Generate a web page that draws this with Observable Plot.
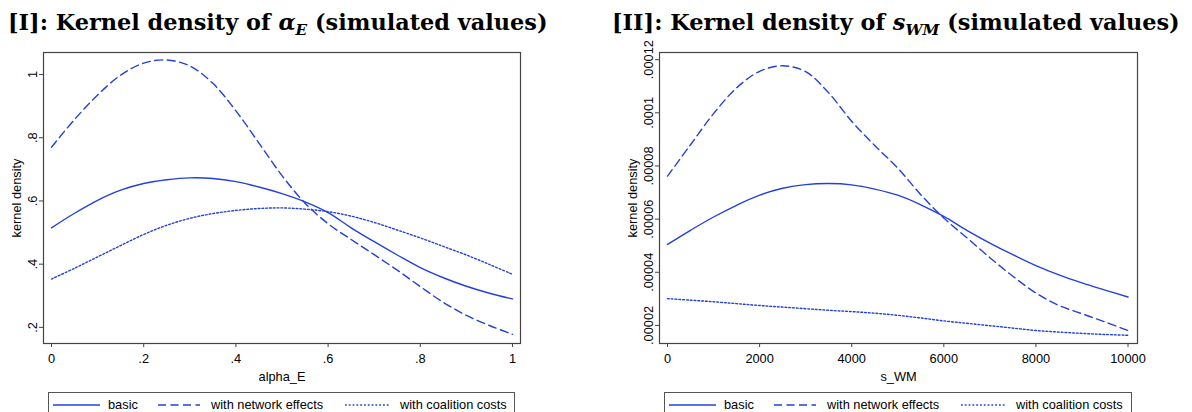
<!DOCTYPE html>
<html><head><meta charset="utf-8">
<script src="https://cdn.jsdelivr.net/npm/d3@7"></script>
<script src="https://cdn.jsdelivr.net/npm/@observablehq/plot@0.6"></script>
<style>
body{margin:0;background:#fff;}
#root{position:relative;width:1192px;height:412px;overflow:hidden;background:#fff;font-family:"Liberation Sans",Arial,sans-serif;}
.title{position:absolute;top:10px;line-height:24px;font-family:"DejaVu Serif","Liberation Serif",serif;font-weight:bold;font-size:22.4px;white-space:nowrap;color:#000;}
.title i{font-style:italic;}
.title sub{font-size:0.68em;vertical-align:-0.3em;line-height:0;}
.panel{position:absolute;top:0;}
.legend{position:absolute;top:392px;}
</style></head>
<body><div id="root"></div>
<script>
// ---------- data ----------
const seriesNames = ["basic", "with network effects", "with coalition costs"];

// Panel I: alpha_E
const alphaGrid = [0, 0.05, 0.1, 0.15, 0.2, 0.25, 0.3, 0.35, 0.4, 0.45, 0.5, 0.55, 0.6, 0.65, 0.7, 0.75, 0.8, 0.85, 0.9, 0.95, 1];
const alphaBasic = [0.515, 0.561, 0.602, 0.634, 0.655, 0.667, 0.673, 0.671, 0.661, 0.644, 0.623, 0.597, 0.563, 0.515, 0.471, 0.429, 0.389, 0.357, 0.330, 0.308, 0.290];
const alphaNetwork = [0.770, 0.858, 0.935, 0.998, 1.036, 1.046, 1.027, 0.972, 0.885, 0.783, 0.680, 0.593, 0.528, 0.478, 0.430, 0.381, 0.329, 0.279, 0.238, 0.206, 0.178];
const alphaCoalition = [0.353, 0.387, 0.423, 0.459, 0.494, 0.523, 0.545, 0.560, 0.570, 0.576, 0.578, 0.574, 0.566, 0.552, 0.532, 0.508, 0.483, 0.456, 0.429, 0.399, 0.368];
const alphaXTicks = [0, 0.2, 0.4, 0.6, 0.8, 1];
const alphaYTicks = [0.2, 0.4, 0.6, 0.8, 1];

// Panel II: s_WM
const swmGrid = [0, 500, 1000, 1500, 2000, 2500, 3000, 3500, 4000, 4500, 5000, 5500, 6000, 6500, 7000, 7500, 8000, 8500, 9000, 9500, 10000];
const swmBasic = [0.0000505, 0.0000558, 0.0000608, 0.0000652, 0.0000690, 0.0000716, 0.0000730, 0.0000734, 0.0000729, 0.0000713, 0.0000690, 0.0000654, 0.0000610, 0.0000558, 0.0000510, 0.0000466, 0.0000425, 0.0000390, 0.0000360, 0.0000333, 0.0000307];
const swmNetwork = [0.0000762, 0.0000880, 0.0000997, 0.0001094, 0.0001156, 0.0001177, 0.0001155, 0.0001075, 0.0000968, 0.0000877, 0.0000792, 0.0000692, 0.0000604, 0.0000530, 0.0000455, 0.0000385, 0.0000322, 0.0000275, 0.0000244, 0.0000213, 0.0000181];
const swmCoalition = [0.0000301, 0.0000295, 0.0000289, 0.0000282, 0.0000275, 0.0000269, 0.0000263, 0.0000257, 0.0000252, 0.0000246, 0.0000238, 0.0000228, 0.0000217, 0.0000208, 0.0000199, 0.0000190, 0.0000181, 0.0000175, 0.0000170, 0.0000166, 0.0000163];
const swmXTicks = [0, 2000, 4000, 6000, 8000, 10000];
const swmYTicks = [0.00002, 0.00004, 0.00006, 0.00008, 0.0001, 0.00012];

// ---------- styling ----------
const lineColor = "#2340dc";
const frameColor = "#444";
const dashes = ["none", "8,4.5", "1.8,2"];
const fmt = d => d === 0 ? "0" : String(d).replace(/^0\./, ".");
const root = document.getElementById("root");

function makePanel({grid, series, xDomain, yDomain, xTicks, yTicks, xLabel, marginLeft, marginRight, left}) {
  const rows = series.map((vals, i) => grid.map((x, j) => ({x, y: vals[j], s: seriesNames[i]})));
  const chart = Plot.plot({
    width: 596, height: 392,
    marginLeft, marginRight, marginTop: 52, marginBottom: 49,
    x: {domain: xDomain},
    y: {domain: yDomain},
    style: {fontFamily: '"Liberation Sans", Arial, sans-serif', fontSize: "12.5px", color: "#000", background: "transparent", overflow: "visible"},
    marks: [
      Plot.frame({stroke: frameColor, strokeWidth: 1.2}),
      Plot.axisX(xTicks, {tickSize: 4, tickPadding: 6, tickFormat: fmt, stroke: frameColor, label: xLabel, labelAnchor: "center", labelOffset: 37, labelArrow: false, fontSize: 12.8}),
      Plot.axisY(yTicks, {tickSize: 4, tickPadding: 3, tickRotate: -90, tickFormat: fmt, stroke: frameColor, label: "kernel density", labelAnchor: "center", labelOffset: 32, labelArrow: false, fontSize: 12.8}),
      ...rows.map((r, i) => Plot.line(r, {x: "x", y: "y", stroke: lineColor, strokeWidth: 1.4, strokeDasharray: dashes[i], curve: "catmull-rom"}))
    ]
  });
  chart.classList.add("panel");
  chart.style.left = left + "px";
  root.appendChild(chart);
}

function makeTitle(html, left) {
  const d = document.createElement("div");
  d.className = "title";
  d.style.left = left + "px";
  d.innerHTML = html;
  root.appendChild(d);
}

function makeLegend(left, width) {
  const svg = d3.create("svg").attr("width", width).attr("height", 22).attr("class", "legend")
    .style("left", left + "px").style("overflow", "visible");
  svg.append("rect").attr("x", 0.5).attr("y", 0.5).attr("width", width - 1).attr("height", 40)
    .attr("fill", "none").attr("stroke", "#555").attr("stroke-width", 1);
  const samples = [[5, 52, 60], [110, 152, 163], [297, 342, 352]];
  samples.forEach(([x1, x2, tx], i) => {
    svg.append("line").attr("x1", x1).attr("x2", x2).attr("y1", 13).attr("y2", 13)
      .attr("stroke", lineColor).attr("stroke-width", 1.4).attr("stroke-dasharray", dashes[i]);
    svg.append("text").attr("x", tx).attr("y", 13).attr("dy", "0.35em")
      .attr("font-family", '"Liberation Sans", Arial, sans-serif').attr("font-size", 12.8)
      .text(seriesNames[i]);
  });
  root.appendChild(svg.node());
}

makePanel({grid: alphaGrid, series: [alphaBasic, alphaNetwork, alphaCoalition],
  xDomain: [-0.0174, 1.0174], yDomain: [0.149, 1.0696], xTicks: alphaXTicks, yTicks: alphaYTicks,
  xLabel: "alpha_E", marginLeft: 43, marginRight: 76, left: 0});
makePanel({grid: swmGrid, series: [swmBasic, swmNetwork, swmCoalition],
  xDomain: [-174, 10206], yDomain: [0.0000132, 0.0001227], xTicks: swmXTicks, yTicks: swmYTicks,
  xLabel: "s_WM", marginLeft: 63, marginRight: 55, left: 596});

makeTitle('[I]: Kernel density of <i>α</i><sub><i>E</i></sub> (simulated values)', 8);
makeTitle('[II]: Kernel density of <i>s</i><sub><i>WM</i></sub> (simulated values)', 612);

makeLegend(48, 467);
makeLegend(664, 468);
</script>
</body></html>
